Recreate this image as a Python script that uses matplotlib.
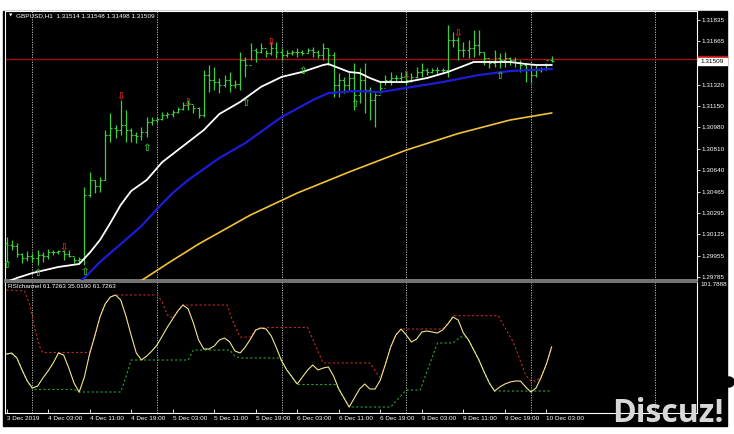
import numpy as np
import matplotlib.pyplot as plt
import matplotlib.transforms as mtransforms
from matplotlib.patches import Rectangle, Ellipse

plt.rcParams["font.family"] = ["Liberation Sans", "DejaVu Sans"]

# ---------- GBPUSD H1, bar 0 = 3 Dec 2019 19:00 ----------
first_open = 1.30060
highs = [1.30104, 1.30080, 1.30056, 1.29976, 1.29992, 1.29976, 1.30000, 1.29984, 1.30008, 1.30000,
         1.30000, 1.30000, 1.30000, 1.29944, 1.29944, 1.30503, 1.30623, 1.30559, 1.30583, 1.30958,
         1.31094, 1.30998, 1.31197, 1.31118, 1.30974, 1.30942, 1.30982, 1.31062, 1.31062, 1.31062,
         1.31102, 1.31102, 1.31118, 1.31142, 1.31181, 1.31197, 1.31158, 1.31142, 1.31437, 1.31477,
         1.31461, 1.31373, 1.31397, 1.31421, 1.31357, 1.31580, 1.31541, 1.31652, 1.31612, 1.31652,
         1.31596, 1.31660, 1.31660, 1.31612, 1.31596, 1.31596, 1.31612, 1.31596, 1.31612, 1.31620,
         1.31596, 1.31652, 1.31612, 1.31580, 1.31413, 1.31381, 1.31421, 1.31493, 1.31453, 1.31493,
         1.31301, 1.31253, 1.31341, 1.31397, 1.31421, 1.31397, 1.31421, 1.31421, 1.31413, 1.31461,
         1.31493, 1.31453, 1.31453, 1.31461, 1.31453, 1.31796, 1.31740, 1.31700, 1.31660, 1.31676,
         1.31756, 1.31756, 1.31580, 1.31517, 1.31596, 1.31573, 1.31580, 1.31541, 1.31541, 1.31517,
         1.31493, 1.31477, 1.31477, 1.31461, 1.31493, 1.31548]
lows = [1.29905, 1.30000, 1.29944, 1.29897, 1.29913, 1.29905, 1.29881, 1.29905, 1.29929, 1.29960,
        1.29968, 1.29921, 1.29944, 1.29897, 1.29897, 1.29881, 1.30423, 1.30455, 1.30463, 1.30559,
        1.30862, 1.30894, 1.30918, 1.30862, 1.30862, 1.30854, 1.30878, 1.30902, 1.30998, 1.31014,
        1.31038, 1.31054, 1.31062, 1.31094, 1.31118, 1.31118, 1.31094, 1.31054, 1.31062, 1.31261,
        1.31277, 1.31253, 1.31301, 1.31261, 1.31293, 1.31277, 1.31381, 1.31517, 1.31501, 1.31573,
        1.31541, 1.31557, 1.31533, 1.31517, 1.31541, 1.31557, 1.31541, 1.31557, 1.31573, 1.31541,
        1.31533, 1.31517, 1.31477, 1.31221, 1.31221, 1.31253, 1.31277, 1.31118, 1.31174, 1.31094,
        1.31038, 1.30982, 1.31253, 1.31317, 1.31317, 1.31341, 1.31341, 1.31317, 1.31341, 1.31373,
        1.31381, 1.31397, 1.31413, 1.31397, 1.31413, 1.31381, 1.31620, 1.31517, 1.31541, 1.31533,
        1.31541, 1.31557, 1.31477, 1.31453, 1.31461, 1.31453, 1.31461, 1.31477, 1.31461, 1.31421,
        1.31341, 1.31333, 1.31381, 1.31421, 1.31437, 1.31498]
closes = [1.30040, 1.30032, 1.29968, 1.29937, 1.29952, 1.29937, 1.29960, 1.29952, 1.29984, 1.29984,
          1.29992, 1.29968, 1.29952, 1.29921, 1.29929, 1.30439, 1.30559, 1.30511, 1.30559, 1.30918,
          1.30974, 1.30958, 1.30998, 1.30958, 1.30918, 1.30910, 1.30942, 1.31022, 1.31038, 1.31046,
          1.31078, 1.31086, 1.31102, 1.31126, 1.31158, 1.31166, 1.31134, 1.31078, 1.31397, 1.31357,
          1.31341, 1.31317, 1.31357, 1.31317, 1.31325, 1.31517, 1.31477, 1.31596, 1.31580, 1.31612,
          1.31573, 1.31612, 1.31580, 1.31557, 1.31573, 1.31580, 1.31580, 1.31573, 1.31596, 1.31580,
          1.31557, 1.31612, 1.31557, 1.31317, 1.31357, 1.31317, 1.31373, 1.31237, 1.31357, 1.31277,
          1.31197, 1.31237, 1.31293, 1.31357, 1.31373, 1.31373, 1.31381, 1.31357, 1.31381, 1.31421,
          1.31437, 1.31421, 1.31437, 1.31437, 1.31437, 1.31676, 1.31676, 1.31596, 1.31596, 1.31612,
          1.31636, 1.31580, 1.31533, 1.31493, 1.31533, 1.31517, 1.31533, 1.31517, 1.31501, 1.31477,
          1.31437, 1.31397, 1.31437, 1.31445, 1.31514, 1.31509]

# fractal arrows
up_frac_bars = [11, 22, 35, 51, 77, 87]
up_frac_price = [1.30032, 1.31237, 1.31189, 1.31668, 1.31405, 1.31740]
dn_frac_bars = [0, 6, 15, 27, 46, 57, 67, 95]
dn_frac_price = [1.29881, 1.29817, 1.29825, 1.30815, 1.31174, 1.31429, 1.31166, 1.31389]

# moving averages (sampled along the lines)
white_bars = [0, 2, 5, 10, 14, 16, 18, 20, 22, 24, 27, 30, 33, 35, 38, 41, 45, 49, 53, 57,
              61, 62, 64, 66, 68, 70, 72, 77, 81, 85, 87, 90, 97, 100, 102, 105]
white_ma = [1.29745, 1.29777, 1.29817, 1.29865, 1.29889, 1.29977, 1.30080, 1.30216, 1.30360, 1.30471,
            1.30559, 1.30702, 1.30798, 1.30862, 1.30958, 1.31086, 1.31182, 1.31302, 1.31382, 1.31422,
            1.31477, 1.31485, 1.31453, 1.31421, 1.31413, 1.31373, 1.31341, 1.31341, 1.31373, 1.31421,
            1.31453, 1.31501, 1.31501, 1.31485, 1.31477, 1.31477]
blue_bars = [14, 15, 18, 22, 26, 29, 32, 35, 41, 46, 53, 59, 62, 67, 72, 78, 84, 91, 97, 105]
blue_ma = [1.29745, 1.29777, 1.29905, 1.30048, 1.30192, 1.30328, 1.30455, 1.30559, 1.30735, 1.30854,
           1.31062, 1.31197, 1.31253, 1.31269, 1.31261, 1.31301, 1.31341, 1.31397, 1.31429, 1.31445]
orange_bars = [25, 31, 37, 47, 56, 66, 77, 87, 97, 105]
orange_ma = [1.29730, 1.29892, 1.30048, 1.30280, 1.30455, 1.30623, 1.30798, 1.30930, 1.31038, 1.31094]

hline_price = 1.31525
bid = 1.31509
price_ticks = [1.31835, 1.31665, 1.31320, 1.31150, 1.30980, 1.30810, 1.30640,
               1.30465, 1.30295, 1.30125, 1.29955, 1.29785]

# ---------- RSI channel ----------
rsi = [57.34, 57.96, 54.88, 47.47, 40.68, 36.36, 37.59, 42.53, 46.85, 51.79,
       57.96, 56.73, 48.70, 39.44, 33.89, 43.15, 57.34, 68.46, 80.18, 88.21,
       92.53, 93.77, 90.68, 80.80, 69.07, 57.96, 53.64, 56.11, 59.20, 62.90,
       68.46, 74.01, 78.95, 83.89, 87.59, 85.12, 76.48, 65.99, 60.43, 60.43,
       62.28, 65.99, 67.22, 64.75, 59.20, 57.96, 61.67, 66.60, 72.16, 73.39,
       72.78, 68.46, 61.05, 53.02, 47.47, 43.15, 38.83, 43.15, 47.47, 50.55,
       47.47, 48.70, 49.32, 43.76, 35.74, 30.18, 24.63, 30.18, 35.74, 38.83,
       35.74, 35.74, 41.29, 51.17, 61.67, 69.07, 72.78, 69.07, 64.75, 66.60,
       70.92, 71.54, 70.92, 70.31, 72.16, 75.86, 80.18, 78.33, 70.31, 65.99,
       59.81, 53.64, 46.23, 39.44, 34.50, 36.97, 38.83, 40.06, 40.68, 40.68,
       36.97, 33.89, 36.36, 43.15, 51.17, 61.73]
upper_bars = [0, 3.5, 4.5, 5.5, 6.5, 7, 16, 17, 18, 19, 20, 21, 29, 30, 31, 32, 33, 34,
              42.5, 43.5, 45, 47, 48, 49, 58, 61, 70, 72, 73, 74, 75, 76, 84, 85, 86,
              94.7, 97.6, 100, 101, 102, 103, 104, 105]
upper_vals = [96.85, 96.2, 87.6, 72.2, 61.0, 58.3, 58.3, 68.46, 80.18, 88.21, 92.53, 93.77, 93.77,
              89.4, 81.4, 79.6, 83.89, 87.59, 87.59, 78.3, 67.8, 67.8, 72.16, 73.7, 73.7, 51.8,
              51.8, 42.5, 51.17, 61.67, 69.07, 72.78, 72.78, 75.86, 81.0, 81.0, 64.75, 44.4,
              40.7, 40.7, 43.15, 51.17, 61.73]
lower_bars = [0, 1, 2, 3, 4, 5, 13, 14, 22, 23, 24, 35, 36, 43, 44, 45, 52.7, 53, 54, 55, 56,
              63.5, 64, 65, 66, 74, 77, 79.7, 83, 86, 87.4, 88.5, 89, 90, 91, 92, 93, 94, 105]
lower_vals = [57.34, 57.34, 54.88, 47.47, 40.68, 35.5, 35.5, 33.89, 33.89, 43.15, 53.64, 53.64,
              59.82, 59.82, 56.0, 54.88, 54.88, 53.02, 47.47, 43.15, 38.5, 38.5, 35.74, 30.18,
              24.63, 24.63, 35.12, 35.12, 64.14, 64.14, 67.84, 67.84, 65.99, 59.81, 53.64, 46.23,
              39.44, 34.5, 34.5]

time_ticks = list(range(0, 105, 8))
time_labels = ["3 Dec 2019", "4 Dec 03:00", "4 Dec 11:00", "4 Dec 19:00", "5 Dec 03:00",
               "5 Dec 11:00", "5 Dec 19:00", "6 Dec 03:00", "6 Dec 11:00", "6 Dec 19:00",
               "9 Dec 03:00", "9 Dec 11:00", "9 Dec 19:00", "10 Dec 03:00"]
day_starts = [5, 29, 53, 77, 101, 125]

W, H = 734, 434
BAR_GREEN = "#3ccf3c"
GRID = "#c8c8c8"
FS = 4.6

fig = plt.figure(figsize=(W / 100, H / 100), dpi=100, facecolor="white")
fig.add_artist(Rectangle((3 / W, 1 - 426 / H), 724 / W, 415 / H,
                         transform=fig.transFigure, color="black", zorder=0))

ax = fig.add_axes([5 / W, 1 - 280 / H, 692 / W, 269 / H], facecolor="black")
ax2 = fig.add_axes([5 / W, 1 - 413 / H, 692 / W, 131 / H], facecolor="black")
for a in (ax, ax2):
    a.set_xlim(-0.29, 133.0)
ax.set_ylim(1.29761, 1.31908)
ax2.set_ylim(20.93, 101.79)

for a in (ax, ax2):
    for side in ("left", "right", "top", "bottom"):
        a.spines[side].set_color("white")
        a.spines[side].set_linewidth(0.8)
    for d in day_starts:
        a.axvline(d, color=GRID, lw=0.6, ls=(0, (1.5, 1.5)), zorder=1)
ax.spines["bottom"].set_color("#8a8a8a")
ax.spines["bottom"].set_linewidth(1.2)
ax2.spines["top"].set_color("#8a8a8a")
ax2.spines["top"].set_linewidth(1.2)

# ---- price bars ----
x = np.arange(len(highs))
opens = [first_open] + closes[:-1]
ax.vlines(x, lows, highs, color=BAR_GREEN, lw=0.9, zorder=3)
ax.hlines(opens, x - 0.38, x, color=BAR_GREEN, lw=0.8, zorder=3)
ax.hlines(closes, x, x + 0.38, color=BAR_GREEN, lw=0.8, zorder=3)

ax.axhline(hline_price, color="#a01010", lw=1.0, zorder=2)
ax.plot(orange_bars, orange_ma, color="#f2c23a", lw=1.2, zorder=4)
ax.plot(blue_bars, blue_ma, color="#1c1cd8", lw=1.6, zorder=4)
ax.plot(white_bars, white_ma, color="white", lw=1.3, zorder=5)

for b, p in zip(up_frac_bars, up_frac_price):
    ax.text(b, p, "\u21e9", color="#e02020", fontsize=7.5, ha="center", va="center",
            family="DejaVu Sans", fontweight="bold", zorder=6)
for b, p in zip(dn_frac_bars, dn_frac_price):
    ax.text(b, p, "\u21e7", color="#40c040", fontsize=7.5, ha="center", va="center",
            family="DejaVu Sans", fontweight="bold", zorder=6)

ax.set_xticks([])
ax.yaxis.tick_right()
ax.set_yticks(price_ticks)
ax.set_yticklabels(["%.5f" % t for t in price_ticks])
ax.tick_params(axis="y", direction="out", length=2, width=0.6, colors="white",
               labelsize=FS, pad=1.5)

# price labels on the scale
tr = mtransforms.blended_transform_factory(ax.transAxes, ax.transData)
ax.add_patch(Rectangle((1.001, hline_price - 0.00022), 0.043, 0.00044, transform=tr,
                       color="#c01818", clip_on=False, zorder=7))
ax.add_patch(Rectangle((1.001, bid - 0.00030), 0.043, 0.00054, transform=tr,
                       color="white", clip_on=False, zorder=8))
ax.text(1.022, bid - 0.00003, "%.5f" % bid, transform=tr, color="black", fontsize=FS,
        ha="center", va="center", zorder=9)

ax.text(0.006, 0.982, "\u25bc", transform=ax.transAxes, color="white", fontsize=3.2,
        ha="left", va="center", family="DejaVu Sans")
ax.text(0.016, 0.981, "GBPUSD,H1  1.31514 1.31548 1.31498 1.31509", transform=ax.transAxes,
        color="white", fontsize=FS, ha="left", va="center")

# ---- RSI channel ----
ax2.plot(upper_bars, upper_vals, color="#c0282a", lw=0.8, ls=(0, (2, 2)), zorder=3)
ax2.plot(lower_bars, lower_vals, color="#2ca02c", lw=0.8, ls=(0, (2, 2)), zorder=3)
ax2.plot(x, rsi, color="#f0e68c", lw=0.8, zorder=4)
ax2.text(0.004, 0.962, "RSIchannel 61.7263 35.0190 61.7263", transform=ax2.transAxes,
         color="white", fontsize=FS, ha="left", va="center")
ax2.set_yticks([])
ax2.set_xticks(time_ticks)
ax2.set_xticklabels(time_labels)
for lbl in ax2.get_xticklabels():
    lbl.set_horizontalalignment("left")
ax2.tick_params(axis="x", direction="in", length=3, width=0.6, colors="white",
                labelsize=FS, pad=2.5)
fig.text(700 / W, 1 - 285 / H, "101.7888", color="white", fontsize=FS, ha="left", va="center")

# forum watermark
fig.add_artist(Ellipse((729 / W, 1 - 382 / H), 10 / W, 10 / H, transform=fig.transFigure,
                       color="black", zorder=10))
fig.text(612 / W, 1 - 422 / H, "Discuz!", color="#d8d8d8", fontsize=23, fontweight="bold",
         family="Open Sans", ha="left", va="baseline", zorder=11)

fig.savefig("out.png", dpi=100, facecolor="white")
